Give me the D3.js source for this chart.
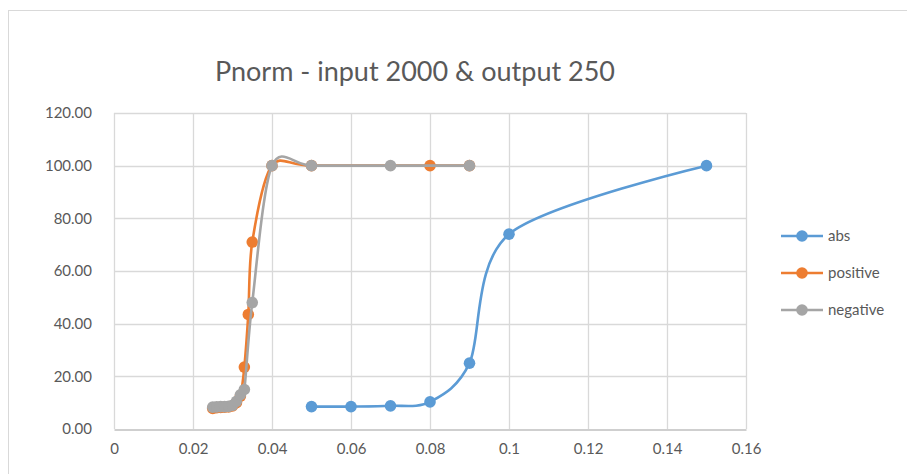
<!DOCTYPE html>
<html>
<head>
<meta charset="utf-8">
<script src="https://cdn.jsdelivr.net/npm/d3@7"></script>
<style>
  body { margin: 0; background: #fff; }
  svg { display: block; }
</style>
</head>
<body>
<div id="chart"></div>
<script>
// data
var absX = [0.05, 0.06, 0.07, 0.08, 0.09, 0.1, 0.15];
var absY = [8.5, 8.5, 8.8, 10.3, 25, 74, 100];

var posX = [0.025, 0.026, 0.027, 0.028, 0.029, 0.030, 0.031, 0.032, 0.033, 0.034, 0.035, 0.04, 0.05, 0.08, 0.09];
var posY = [7.8, 8.1, 8.2, 8.3, 8.4, 8.8, 10.0, 12.5, 23.5, 43.5, 71, 100, 100, 100, 100];

var negX = [0.025, 0.026, 0.027, 0.028, 0.029, 0.030, 0.031, 0.032, 0.033, 0.035, 0.04, 0.05, 0.07, 0.09];
var negY = [8.3, 8.4, 8.5, 8.5, 8.6, 9.0, 10.5, 13, 15, 48, 100, 100, 100, 100];

var xTicks = [0, 0.02, 0.04, 0.06, 0.08, 0.1, 0.12, 0.14, 0.16];
var yTicks = [0, 20, 40, 60, 80, 100, 120];

var seriesNames = ['abs', 'positive', 'negative'];
var seriesColors = ['#5B9BD5', '#ED7D31', '#A5A5A5'];

var series = [
  {name: seriesNames[0], color: seriesColors[0], pts: absX.map(function(x, i){ return [x, absY[i]]; })},
  {name: seriesNames[1], color: seriesColors[1], pts: posX.map(function(x, i){ return [x, posY[i]]; })},
  {name: seriesNames[2], color: seriesColors[2], pts: negX.map(function(x, i){ return [x, negY[i]]; })}
];

var width = 907, height = 474;
var font = 'Lato, "Open Sans", sans-serif';

var svg = d3.select('#chart')
  .append('svg')
  .attr('width', width)
  .attr('height', height);

// chart frame
svg.append('rect')
  .attr('x', 8.5).attr('y', 10.5)
  .attr('width', 920).attr('height', 500)
  .attr('fill', '#fff')
  .attr('stroke', '#D9D9D9');

var x = d3.scaleLinear().domain([0, 0.16]).range([114, 746]);
var y = d3.scaleLinear().domain([0, 120]).range([429, 113]);

// gridlines
svg.append('g')
  .selectAll('line.h')
  .data(yTicks.slice(1))
  .enter().append('line')
  .attr('x1', x(0)).attr('x2', x(0.16))
  .attr('y1', function(d){ return Math.round(y(d)) + 0.5; })
  .attr('y2', function(d){ return Math.round(y(d)) + 0.5; })
  .attr('stroke', '#D9D9D9').attr('stroke-width', 1.3);

svg.append('g')
  .selectAll('line.v')
  .data(xTicks)
  .enter().append('line')
  .attr('y1', y(0)).attr('y2', y(120))
  .attr('x1', function(d){ return Math.round(x(d)) + 0.5; })
  .attr('x2', function(d){ return Math.round(x(d)) + 0.5; })
  .attr('stroke', '#D9D9D9').attr('stroke-width', 1.3);

// x axis
var xAxis = svg.append('g')
  .attr('transform', 'translate(0,' + (Math.round(y(0)) + 0.5) + ')')
  .call(d3.axisBottom(x).tickValues(xTicks).tickSize(0).tickPadding(14)
    .tickFormat(function(d){ return d === 0 ? '0' : String(+d.toFixed(2)); }));
xAxis.select('.domain').attr('stroke', '#BFBFBF').attr('stroke-width', 1.3);
xAxis.selectAll('text')
  .attr('fill', '#595959').style('font-family', font).style('font-size', '15px');

// y axis
var yAxis = svg.append('g')
  .attr('transform', 'translate(' + x(0) + ',0)')
  .call(d3.axisLeft(y).tickValues(yTicks).tickSize(0).tickPadding(22)
    .tickFormat(d3.format('.2f')));
yAxis.select('.domain').remove();
yAxis.selectAll('text')
  .attr('fill', '#595959').style('font-family', font).style('font-size', '15px');

// lines
var line = d3.line()
  .x(function(d){ return x(d[0]); })
  .y(function(d){ return y(d[1]); })
  .curve(d3.curveCardinal.tension(0.1));

series.forEach(function(s){
  var g = svg.append('g');
  g.append('path')
    .datum(s.pts)
    .attr('d', line)
    .attr('fill', 'none')
    .attr('stroke', s.color)
    .attr('stroke-width', 2.6)
    .attr('stroke-linecap', 'round');
  g.selectAll('circle')
    .data(s.pts)
    .enter().append('circle')
    .attr('cx', function(d){ return x(d[0]); })
    .attr('cy', function(d){ return y(d[1]); })
    .attr('r', 5.8)
    .attr('fill', s.color);
});

// title
svg.append('text')
  .text('Pnorm - input 2000 & output 250')
  .attr('x', 415)
  .attr('y', 81)
  .attr('text-anchor', 'middle')
  .attr('fill', '#595959')
  .style('font-family', font)
  .style('font-size', '27px');

// legend
var legend = svg.append('g')
  .selectAll('g')
  .data(series)
  .enter().append('g')
  .attr('transform', function(d, i){ return 'translate(781,' + (236 + i * 37) + ')'; });

legend.append('line')
  .attr('x1', 0).attr('x2', 42)
  .attr('stroke', function(d){ return d.color; })
  .attr('stroke-width', 2.6);
legend.append('circle')
  .attr('cx', 21).attr('r', 5.8)
  .attr('fill', function(d){ return d.color; });
legend.append('text')
  .text(function(d){ return d.name; })
  .attr('x', 47)
  .attr('dy', '0.35em')
  .attr('fill', '#595959')
  .style('font-family', font)
  .style('font-size', '15px');
</script>
</body>
</html>
